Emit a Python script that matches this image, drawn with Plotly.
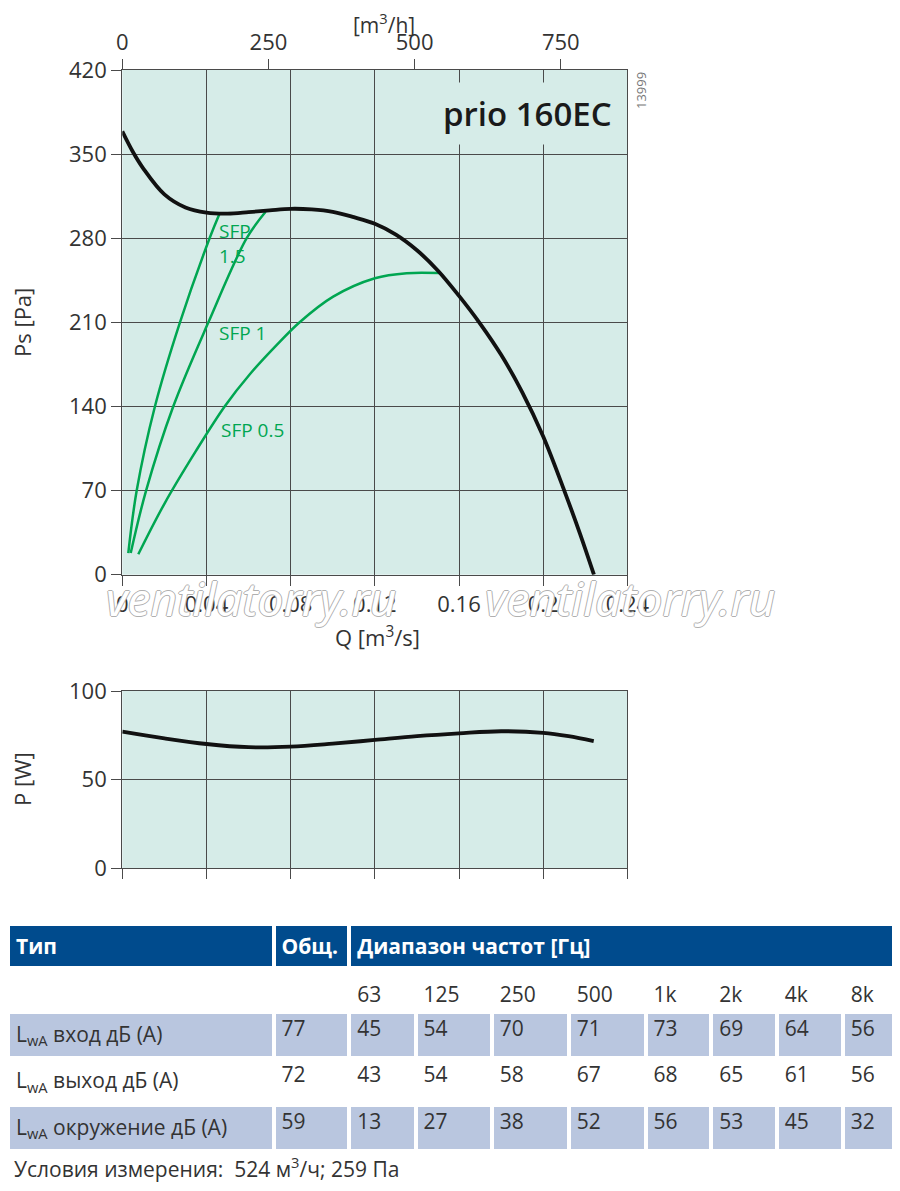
import plotly.graph_objects as go

# fan curve, static pressure vs flow
q_fan = [0, 0.005, 0.01, 0.02, 0.03, 0.04, 0.05, 0.06, 0.07, 0.08, 0.09, 0.1, 0.11,
         0.12, 0.13, 0.14, 0.15, 0.16, 0.17, 0.18, 0.19, 0.2, 0.21, 0.2175, 0.2241]
ps_fan = [369, 352, 338, 316.5, 305.6, 301.3, 300.5, 301.7, 303.2, 304.5, 304, 302, 297.5,
          292, 283, 270, 253, 232, 209, 183, 152, 115, 70, 34, 0]

# SFP lines
q_sfp15 = [0.00285, 0.00684, 0.0155, 0.0274, 0.0417, 0.0461]
ps_sfp15 = [18, 70, 140, 210, 281, 300]
q_sfp1 = [0.004, 0.0113, 0.0242, 0.0409, 0.0591, 0.0681]
ps_sfp1 = [18, 70, 140, 210, 280, 302]
q_sfp05 = [0.0076, 0.02, 0.035, 0.0488, 0.0607, 0.0733, 0.0844, 0.1002, 0.12, 0.1351, 0.1506]
ps_sfp05 = [17, 59, 103, 140.4, 167, 191, 210.3, 231.4, 246.7, 250.9, 251]

# power input
q_pow = [0, 0.02, 0.04, 0.06, 0.08, 0.1, 0.12, 0.14, 0.16, 0.18, 0.2, 0.212, 0.224]
p_pow = [77.1, 73.3, 70.1, 68.3, 68.6, 70.3, 72.4, 74.5, 76.1, 77.3, 76.4, 74.5, 71.7]

q_ticks = [0, 0.04, 0.08, 0.12, 0.16, 0.2, 0.24]
q_ticktext = ["0", "0.04", "0.08", "0.12", "0.16", "0.2", "0.24"]
ps_ticks = [0, 70, 140, 210, 280, 350, 420]
p_ticks = [0, 50, 100]
m3h_ticks = [0, 250, 500, 750]

# sound table
head_top = ["<b>Тип</b>", "<b>Общ.</b>", "<b>Диапазон частот [Гц]</b>"]
freqs = ["63", "125", "250", "500", "1k", "2k", "4k", "8k"]
row_names = ["L<sub>wA</sub> вход дБ (A)", "L<sub>wA</sub> выход дБ (A)",
             "L<sub>wA</sub> окружение дБ (A)"]
total = [77, 72, 59]
inlet = [45, 54, 70, 71, 73, 69, 64, 56]
outlet = [43, 54, 58, 67, 68, 65, 61, 56]
surround = [13, 27, 38, 52, 56, 53, 45, 32]

# page has an 8px body margin, so the figure is a bit smaller than the window
OFF = 8
W, H = 900 - OFF, 1191 - 2 * OFF
BG = "#d6ece8"
GRID = "#4a4a4a"
GREEN = "#00a651"
TXT = "#333333"
FONT = "Open Sans"


def px(x):
    return (x - OFF) / W


def py(y):
    return 1 - (y - OFF) / H


fig = go.Figure()
for qq, pp in [(q_sfp15, ps_sfp15), (q_sfp1, ps_sfp1), (q_sfp05, ps_sfp05)]:
    fig.add_trace(go.Scatter(x=qq, y=pp, mode="lines",
                             line=dict(color=GREEN, width=2.5, shape="spline")))
fig.add_trace(go.Scatter(x=q_fan, y=ps_fan, mode="lines",
                         line=dict(color="#111111", width=3.8, shape="spline")))
fig.add_trace(go.Scatter(x=q_pow, y=p_pow, mode="lines", xaxis="x2", yaxis="y2",
                         line=dict(color="#111111", width=3.8, shape="spline")))
# dummy trace so the m3/h axis is drawn
fig.add_trace(go.Scatter(x=[0, 864], y=[None, None], xaxis="x3", yaxis="y",
                         mode="lines", hoverinfo="skip"))

# columns: name, total, 8 bands
cols = [row_names, total] + [[inlet[i], outlet[i], surround[i]] for i in range(8)]
fill_rows = ["#b9c6df", "white", "#b9c6df"]
fig.add_trace(go.Table(
    domain=dict(x=[0, 1], y=[0, py(924)]),
    columnwidth=[265.5, 75.7, 550.8],
    header=dict(values=head_top, height=44, align="left", fill_color="#004b8d",
                line=dict(color="white", width=4),
                font=dict(family=FONT, size=21, color="white")),
    cells=dict(values=[[], [], []]),
))
fig.add_trace(go.Table(
    domain=dict(x=[0, 1], y=[0, py(978)]),
    columnwidth=[265.5, 75.7, 66.3, 76.3, 76.9, 76.8, 65.7, 65.5, 66.1, 57.2],
    header=dict(values=["", ""] + freqs, height=34, align="left", fill_color="white",
                line=dict(color="white", width=4),
                font=dict(family=FONT, size=21, color=TXT)),
    cells=dict(values=cols, height=44, align="left",
               fill_color=[fill_rows] * 10,
               line=dict(color="white", width=4),
               font=dict(family=FONT, size=21, color=TXT)),
))

axis_common = dict(showline=True, linecolor=GRID, linewidth=1.3, mirror=True,
                   showgrid=True, gridcolor=GRID, gridwidth=1.3, zeroline=False,
                   ticks="outside", ticklen=10, tickwidth=1.3, tickcolor=GRID,
                   automargin=False,
                   tickfont=dict(family=FONT, size=22, color=TXT), fixedrange=True)

fig.update_layout(
    width=W, height=H, margin=dict(l=0, r=0, t=0, b=0, pad=0),
    paper_bgcolor="white", plot_bgcolor=BG, showlegend=False,
    font=dict(family=FONT, color=TXT),
    xaxis=dict(axis_common, domain=[px(122.3), px(627.4)], range=[0, 0.24],
               tickvals=q_ticks, ticktext=q_ticktext, anchor="y"),
    yaxis=dict(axis_common, domain=[py(574.7), py(70)], range=[0, 420],
               tickvals=ps_ticks, anchor="x"),
    xaxis3=dict(overlaying="x", side="top", anchor="y", range=[0, 0.24 * 3600],
                tickvals=m3h_ticks, ticks="outside", ticklen=10, tickwidth=1.3,
                tickcolor=GRID, showgrid=False, showline=False, zeroline=False,
                automargin=False,
                tickfont=dict(family=FONT, size=22, color=TXT), fixedrange=True),
    xaxis2=dict(axis_common, domain=[px(122.3), px(627.4)], range=[0, 0.24],
                tickvals=q_ticks, showticklabels=False, anchor="y2"),
    yaxis2=dict(axis_common, domain=[py(868.3), py(691)], range=[0, 100],
                tickvals=p_ticks, anchor="x2"),
)

ann = [
    dict(text="Ps [Pa]", x=px(22), y=py(323), textangle=-90, font_size=22),
    dict(text="P [W]", x=px(22), y=py(779), textangle=-90, font_size=22),
    dict(text="Q [m<sup>3</sup>/s]", x=px(377), y=py(636), font_size=22),
    dict(text="[m<sup>3</sup>/h]", x=px(384), y=py(24), font_size=21),
    dict(text="13999", x=px(641), y=py(91), textangle=-90, font=dict(size=13, color="#777777")),
    dict(text="Условия измерения:  524 м<sup>3</sup>/ч; 259 Па", x=px(12), y=py(1167),
         xanchor="left", font_size=21),
]
for a in ann:
    a.update(xref="paper", yref="paper", showarrow=False)
    a.setdefault("xanchor", "center")
    a["yanchor"] = "middle"
    fig.add_annotation(**a)

fig.add_annotation(text="prio 160EC", xref="paper", yref="paper", x=px(621), y=py(114),
                   xanchor="right", yanchor="middle", showarrow=False, bgcolor=BG, borderpad=8,
                   font=dict(family=FONT, size=33, color="#1a1a1a", weight=600))

for txt, xq, yp in [("SFP<br>1.5", 0.0450, 276), ("SFP 1", 0.0450, 201.4), ("SFP 0.5", 0.0460, 120.4)]:
    fig.add_annotation(text=txt, x=xq, y=yp, xref="x", yref="y", xanchor="left", yanchor="middle",
                       align="left", showarrow=False, font=dict(family=FONT, size=19, color=GREEN))

for xc in [251, 630]:
    fig.add_annotation(text="ventilatorry.ru", xref="paper", yref="paper", x=px(xc), y=py(598),
                       showarrow=False, xanchor="center", yanchor="middle",
                       font=dict(family="Noto Sans", size=46, style="italic", color="white",
                                 shadow="1px 0 #b0b0b0, -1px 0 #b0b0b0, 0 1px #b0b0b0, 0 -1px #b0b0b0"))

fig.write_html("out.html")
